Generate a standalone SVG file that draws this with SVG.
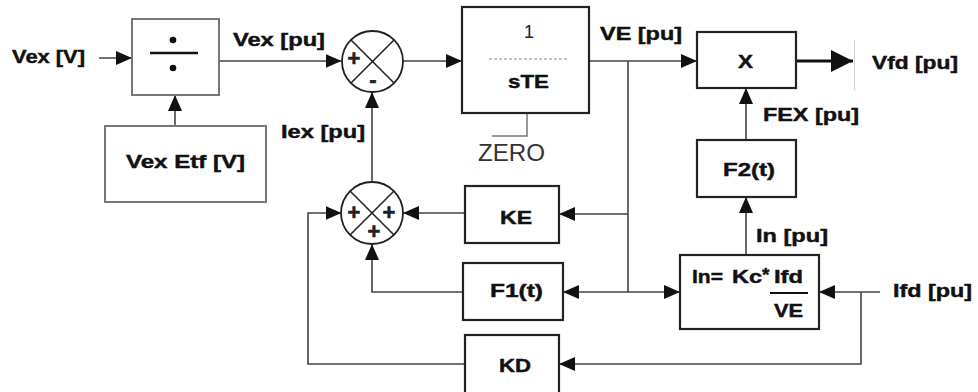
<svg xmlns="http://www.w3.org/2000/svg" width="978" height="392" viewBox="0 0 978 392">
<style>
.t{font-family:"Liberation Sans",Arial,sans-serif;font-weight:bold;font-size:19px;fill:#111;stroke:#111;stroke-width:0.45}
.r{font-family:"Liberation Sans",Arial,sans-serif;font-size:18px;fill:#222}
.ln{fill:none;stroke:#444;stroke-width:1.6}
.bx{fill:#fff;stroke:#222;stroke-width:2.2}
.gb{fill:#fff;stroke:#777;stroke-width:2}
.sg{font-family:"Liberation Sans",Arial,sans-serif;font-weight:bold;font-size:22px;fill:#222;stroke:#222;stroke-width:0.6;text-anchor:middle}
</style>
<defs>
<marker id="ah" viewBox="0 0 16 14" refX="16" refY="7" markerWidth="16" markerHeight="14" markerUnits="userSpaceOnUse" orient="auto"><path d="M0,0 L16,7 L0,14 z" fill="#111"/></marker>
<marker id="big" viewBox="0 0 22 22" refX="22" refY="11" markerWidth="22" markerHeight="22" markerUnits="userSpaceOnUse" orient="auto"><path d="M0,0 L22,11 L0,22 z" fill="#111"/></marker>
</defs>

<g id="connectors">
<path class="ln" d="M99,58 H132" marker-end="url(#ah)"/>
<path class="ln" d="M175,126 V95" marker-end="url(#ah)"/>
<path class="ln" d="M219,61 H341.5" marker-end="url(#ah)"/>
<path class="ln" d="M403,61 H462" marker-end="url(#ah)"/>
<path class="ln" d="M589,61 H697" marker-end="url(#ah)"/>
<path class="ln" d="M628,61 V292"/>
<path class="ln" d="M628,214 H559" marker-end="url(#ah)"/>
<path class="ln" d="M628,292 H563" marker-end="url(#ah)"/>
<path class="ln" d="M628,292 H680" marker-end="url(#ah)"/>
<path class="ln" d="M465,213 H403" marker-end="url(#ah)"/>
<path class="ln" d="M463,292 H372 V244" marker-end="url(#ah)"/>
<path class="ln" d="M465,364 H308 V213 H341.5" marker-end="url(#ah)"/>
<path class="ln" d="M880,292 H819" marker-end="url(#ah)"/>
<path class="ln" d="M861,292 V364 H559" marker-end="url(#ah)"/>
<path class="ln" d="M372,182 V92" marker-end="url(#ah)"/>
<path class="ln" d="M746,254 V197" marker-end="url(#ah)"/>
<path class="ln" d="M746,140 V88" marker-end="url(#ah)"/>
<path fill="none" stroke="#111" stroke-width="3" d="M796,61 H853" marker-end="url(#big)"/>
<path fill="none" stroke="#ccc" stroke-width="1" d="M854.5,40 V90"/>
<path fill="none" stroke="#777" stroke-width="1.5" d="M527,113 V136 H492"/>
</g>

<g id="labels">
<text class="t" x="12" y="63" textLength="73" lengthAdjust="spacingAndGlyphs">Vex [V]</text>
<text class="t" x="233" y="46" textLength="92" lengthAdjust="spacingAndGlyphs">Vex [pu]</text>
<text class="t" x="281" y="138" textLength="84" lengthAdjust="spacingAndGlyphs">Iex [pu]</text>
<text class="t" x="600" y="40" textLength="82" lengthAdjust="spacingAndGlyphs">VE [pu]</text>
<text class="t" x="872" y="69" textLength="86" lengthAdjust="spacingAndGlyphs">Vfd [pu]</text>
<text class="t" x="763" y="121" textLength="96" lengthAdjust="spacingAndGlyphs">FEX [pu]</text>
<text class="t" x="756" y="242" textLength="72" lengthAdjust="spacingAndGlyphs">In [pu]</text>
<text class="t" x="893" y="297" textLength="79" lengthAdjust="spacingAndGlyphs">Ifd [pu]</text>
<text x="478" y="161" font-family="'Liberation Sans',Arial,sans-serif" font-size="23" fill="#333" textLength="67" lengthAdjust="spacingAndGlyphs">ZERO</text>
</g>

<g id="divide">
<rect class="gb" x="132" y="19" width="87" height="76"/>
<circle cx="173" cy="40" r="3.3" fill="#111"/>
<line x1="150" y1="53" x2="198" y2="53" stroke="#111" stroke-width="2.5"/>
<circle cx="173" cy="68" r="3.3" fill="#111"/>
</g>

<g id="vexetf">
<rect class="gb" x="105" y="126" width="161" height="76"/>
<text class="t" x="126" y="168" textLength="119" lengthAdjust="spacingAndGlyphs">Vex Etf [V]</text>
</g>

<g id="sum1">
<circle cx="372.5" cy="61.5" r="30.5" fill="#fff" stroke="#222" stroke-width="1.8"/>
<line x1="351" y1="40" x2="394" y2="83" stroke="#222" stroke-width="1.6"/>
<line x1="394" y1="40" x2="351" y2="83" stroke="#222" stroke-width="1.6"/>
<text class="sg" x="354" y="66">+</text>
<text class="sg" x="373" y="87">-</text>
</g>

<g id="integrator">
<rect class="bx" x="462" y="7" width="127" height="106"/>
<text class="r" x="529" y="38" text-anchor="middle">1</text>
<line x1="489" y1="59" x2="569" y2="59" stroke="#888" stroke-width="1" stroke-dasharray="3,2"/>
<text class="t" x="508" y="88" textLength="41" lengthAdjust="spacingAndGlyphs">sTE</text>
</g>

<g id="mult">
<rect class="bx" x="697" y="32" width="99" height="56" stroke-width="2.6"/>
<text class="t" x="738" y="68" textLength="15" lengthAdjust="spacingAndGlyphs">X</text>
</g>

<g id="f2">
<rect class="bx" x="697" y="140" width="99" height="57"/>
<text class="t" x="723" y="176" textLength="52" lengthAdjust="spacingAndGlyphs">F2(t)</text>
</g>

<g id="inblock">
<rect class="bx" x="680" y="255" width="139" height="74" stroke-width="3.2"/>
<text class="t" x="692" y="283" textLength="31" lengthAdjust="spacingAndGlyphs">In=</text>
<text class="t" x="732" y="283" textLength="30" lengthAdjust="spacingAndGlyphs">Kc</text>
<text class="t" x="762" y="281" font-size="15">*</text>
<text class="t" x="774" y="283" textLength="29" lengthAdjust="spacingAndGlyphs">Ifd</text>
<line x1="770" y1="293" x2="808" y2="293" stroke="#111" stroke-width="2"/>
<text class="t" x="774" y="317" textLength="29" lengthAdjust="spacingAndGlyphs">VE</text>
</g>

<g id="sum2">
<circle cx="372" cy="213" r="31" fill="#fff" stroke="#222" stroke-width="1.8"/>
<line x1="350" y1="191" x2="394" y2="235" stroke="#222" stroke-width="1.6"/>
<line x1="394" y1="191" x2="350" y2="235" stroke="#222" stroke-width="1.6"/>
<text class="sg" x="354" y="220">+</text>
<text class="sg" x="389" y="220">+</text>
<text class="sg" x="374" y="239">+</text>
</g>

<g id="ke">
<rect class="bx" x="465" y="186" width="94" height="57"/>
<text class="t" x="500" y="224" textLength="32" lengthAdjust="spacingAndGlyphs">KE</text>
</g>

<g id="f1">
<rect class="bx" x="463" y="263" width="100" height="57"/>
<text class="t" x="490" y="297" textLength="53" lengthAdjust="spacingAndGlyphs">F1(t)</text>
</g>

<g id="kd">
<rect class="bx" x="465" y="335" width="94" height="62"/>
<text class="t" x="499" y="372" textLength="32" lengthAdjust="spacingAndGlyphs">KD</text>
</g>
</svg>
